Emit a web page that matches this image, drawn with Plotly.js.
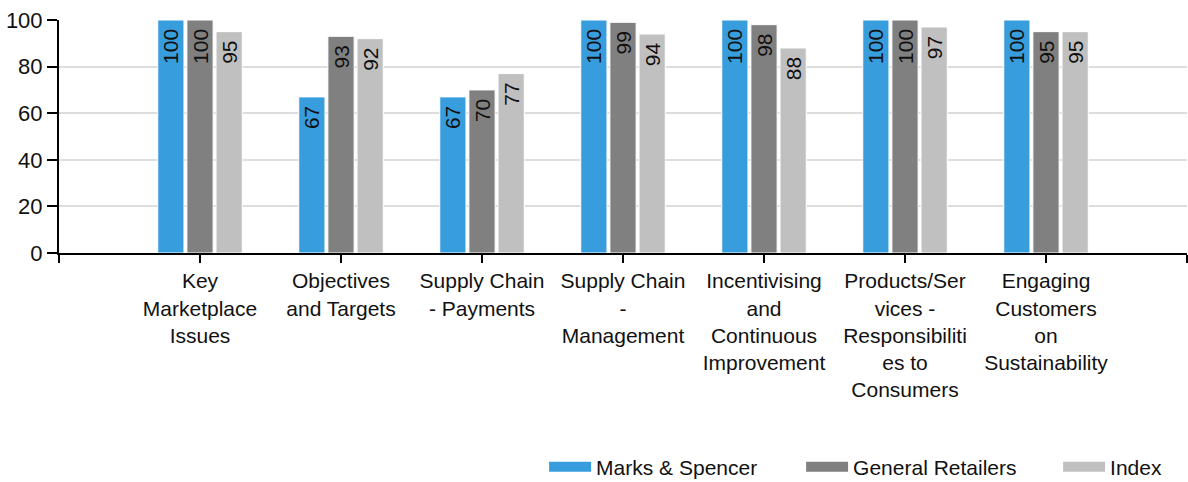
<!DOCTYPE html>
<html>
<head>
<meta charset="utf-8">
<script src="https://cdn.plot.ly/plotly-3.0.1.min.js"></script>
<style>html,body{margin:0;padding:0;background:#fff;}#chart{width:1188px;height:482px;}</style>
</head>
<body>
<div id="chart"></div>
<script>
var categories = [
  "Key<br>Marketplace<br>Issues",
  "Objectives<br>and Targets",
  "Supply Chain<br>- Payments",
  "Supply Chain<br>-<br>Management",
  "Incentivising<br>and<br>Continuous<br>Improvement",
  "Products/Ser<br>vices -<br>Responsibiliti<br>es to<br>Consumers",
  "Engaging<br>Customers<br>on<br>Sustainability"
];
var marksSpencer = [100, 67, 67, 100, 100, 100, 100];
var generalRetailers = [100, 93, 70, 99, 98, 100, 95];
var indexValues = [95, 92, 77, 94, 88, 97, 95];
var seriesNames = ["Marks & Spencer", "General Retailers", "Index"];
var seriesColors = ["#389ddd", "#808080", "#c0c0c0"];
var yTicks = [0, 20, 40, 60, 80, 100];

var positions = categories.map(function(_, i){ return i; });
var tickvals = [-1].concat(positions).concat([categories.length]);
var ticktext = [""].concat(categories).concat([""]);

var font = "'Liberation Sans', Arial, sans-serif";

function makeTrace(vals, idx){
  return {
    type: "bar",
    name: seriesNames[idx],
    x: positions,
    y: vals,
    text: vals.map(function(v){ return v + "\u00a0"; }),
    textposition: "inside",
    insidetextanchor: "end",
    textangle: -90,
    constraintext: "none",
    textfont: {family: font, size: 21, color: "#111"},
    marker: {color: seriesColors[idx], line: {color: "#ffffff", width: 1}},
    showlegend: false,
    hoverinfo: "none"
  };
}

function makeLegendTrace(idx){
  return {
    type: "scatter",
    mode: "lines",
    name: seriesNames[idx],
    x: [null],
    y: [null],
    line: {color: seriesColors[idx], width: 12},
    showlegend: true,
    hoverinfo: "none"
  };
}

var data = [
  makeTrace(marksSpencer, 0),
  makeTrace(generalRetailers, 1),
  makeTrace(indexValues, 2),
  makeLegendTrace(0),
  makeLegendTrace(1),
  makeLegendTrace(2)
];

var layout = {
  width: 1188,
  height: 482,
  margin: {l: 59, r: 1, t: 20, b: 229},
  paper_bgcolor: "#ffffff",
  plot_bgcolor: "#ffffff",
  barmode: "group",
  bargap: 0.38,
  bargroupgap: 0.1,
  showlegend: true,
  legend: {
    orientation: "h",
    xref: "container",
    yref: "container",
    x: 0.458,
    xanchor: "left",
    y: 0.031,
    yanchor: "middle",
    font: {family: font, size: 21, color: "#111"},
    itemwidth: 42,
    entrywidthmode: "pixels",
    entrywidth: 200,
    traceorder: "normal"
  },
  xaxis: {
    type: "linear",
    range: [-1, categories.length],
    tickmode: "array",
    tickvals: tickvals,
    ticktext: ticktext,
    showgrid: false,
    zeroline: false,
    showline: true,
    linecolor: "#000",
    linewidth: 2,
    ticks: "outside",
    ticklen: 8,
    tickwidth: 2,
    tickcolor: "#000",
    tickfont: {family: font, size: 21, color: "#111"},
    fixedrange: true
  },
  yaxis: {
    range: [0, 100],
    tickmode: "array",
    tickvals: yTicks,
    ticktext: yTicks.map(String),
    showgrid: true,
    gridcolor: "#dddddd",
    gridwidth: 2,
    zeroline: false,
    showline: true,
    linecolor: "#000",
    linewidth: 2,
    ticks: "outside",
    ticklen: 10,
    tickwidth: 2,
    tickcolor: "#000",
    tickfont: {family: font, size: 22, color: "#111"},
    fixedrange: true
  }
};

Plotly.newPlot("chart", data, layout, {displayModeBar: false, staticPlot: true});
</script>
</body>
</html>
